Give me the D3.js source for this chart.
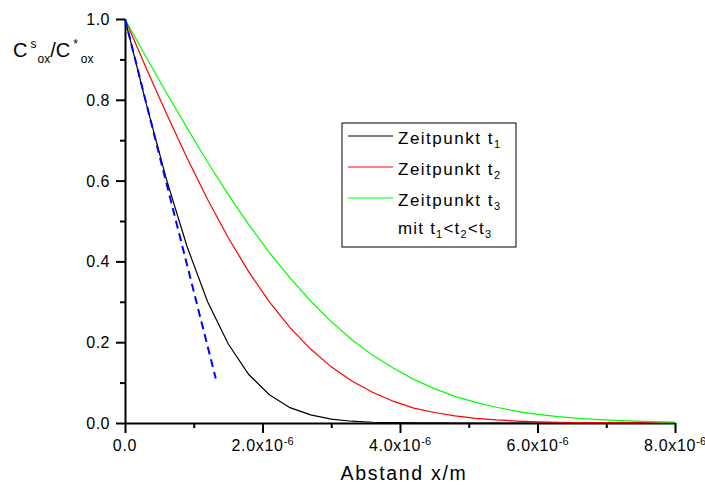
<!DOCTYPE html>
<html>
<head>
<meta charset="utf-8">
<script src="https://cdn.jsdelivr.net/npm/d3@7"></script>
<style>
  html, body { margin: 0; padding: 0; background: #fff; }
  svg { display: block; font-family: "Liberation Sans", Arial, sans-serif; }
</style>
</head>
<body>
<svg id="chart" width="705" height="486"></svg>
<script>
// Distance samples (in micrometres, i.e. units of 1e-6 m)
const distance = [0, 0.3, 0.6, 0.9, 1.2, 1.5, 1.8, 2.1, 2.4, 2.7, 3.0, 3.3, 3.6, 3.9,
                  4.2, 4.5, 4.8, 5.1, 5.4, 5.7, 6.0, 6.3, 6.6, 6.9, 7.2, 7.5, 7.8, 8.1];

// Normalised surface concentration profiles at three times t1 < t2 < t3
const profileT1 = [1, 0.796, 0.605, 0.438, 0.301, 0.196, 0.120, 0.070, 0.038, 0.020, 0.0096, 0.0044,
                   0.0019, 0.0007, 0.0003, 0.0001, 0, 0, 0, 0, 0, 0, 0, 0, 0, 0, 0, 0];
const profileT2 = [1, 0.882, 0.767, 0.657, 0.554, 0.459, 0.374, 0.300, 0.236, 0.183, 0.139, 0.104,
                   0.076, 0.054, 0.037, 0.026, 0.0175, 0.0116, 0.0076, 0.0048, 0.0030, 0.0018,
                   0.0011, 0.0007, 0.0004, 0.0002, 0.0001, 0.0001];
const profileT3 = [1, 0.908, 0.818, 0.731, 0.646, 0.566, 0.491, 0.422, 0.359, 0.302, 0.251, 0.206,
                   0.168, 0.136, 0.108, 0.085, 0.066, 0.051, 0.039, 0.029, 0.0215, 0.0158,
                   0.0114, 0.0082, 0.0058, 0.0041, 0.0028, 0.0019];

// Initial tangent of the t1 profile
const tangentX = [0, 1.32];
const tangentY = [1.0, 0.11];

// Axis ticks
const xMajorTicks = [0, 2, 4, 6, 8];
const xMinorTicks = [1, 3, 5, 7];
const xTickMantissa = ["0.0", "2.0", "4.0", "6.0", "8.0"];
const xTickExponent = "-6";
const yMajorTicks = [0, 0.2, 0.4, 0.6, 0.8, 1.0];
const yMinorTicks = [0.1, 0.3, 0.5, 0.7, 0.9];
const yTickLabels = ["0.0", "0.2", "0.4", "0.6", "0.8", "1.0"];

const legendLabels = ["Zeitpunkt t", "Zeitpunkt t", "Zeitpunkt t"];
const legendIndices = ["1", "2", "3"];
const seriesColors = ["#000000", "#ff0000", "#00ff00"];

const svg = d3.select("#chart");

const x = d3.scaleLinear().domain([0, 8]).range([125, 675]);
const y = d3.scaleLinear().domain([0, 1]).range([423, 19]);

// ---- axes ----
const xAxisG = svg.append("g").attr("transform", "translate(0,423)");
xAxisG.call(d3.axisBottom(x).tickValues(xMajorTicks).tickSize(10).tickSizeOuter(0).tickFormat(""));
xAxisG.append("g").call(d3.axisBottom(x).tickValues(xMinorTicks).tickSize(5).tickSizeOuter(0).tickFormat(""))
  .select(".domain").remove();
xAxisG.selectAll("path, line").attr("stroke", "#000").attr("stroke-width", 2);

const yAxisG = svg.append("g").attr("transform", "translate(125,0)");
yAxisG.call(d3.axisLeft(y).tickValues(yMajorTicks).tickSize(9).tickSizeOuter(0).tickFormat(""));
yAxisG.append("g").call(d3.axisLeft(y).tickValues(yMinorTicks).tickSize(5).tickSizeOuter(0).tickFormat(""))
  .select(".domain").remove();
yAxisG.selectAll("path, line").attr("stroke", "#000").attr("stroke-width", 2);

// y tick labels
svg.append("g").selectAll("text").data(yMajorTicks).join("text")
  .attr("x", 110)
  .attr("y", d => y(d) + 6)
  .attr("text-anchor", "end")
  .attr("font-size", 16)
  .attr("letter-spacing", 0.5)
  .attr("fill", "#000")
  .text((d, i) => yTickLabels[i]);

// x tick labels with power-of-ten exponent
const xLab = svg.append("g").selectAll("text").data(xMajorTicks).join("text")
  .attr("x", d => x(d))
  .attr("y", 451)
  .attr("text-anchor", "middle")
  .attr("font-size", 16)
  .attr("letter-spacing", 0.7)
  .attr("fill", "#000");
xLab.each(function(d, i) {
  const t = d3.select(this);
  if (d === 0) {
    t.text(xTickMantissa[i]);
  } else {
    t.append("tspan").text(xTickMantissa[i] + "x10");
    t.append("tspan").attr("dy", -6).attr("font-size", 11).attr("letter-spacing", 0).text(xTickExponent);
  }
});

// axis titles
svg.append("text")
  .attr("x", 404)
  .attr("y", 480)
  .attr("text-anchor", "middle")
  .attr("font-size", 19.5)
  .attr("letter-spacing", 1.7)
  .attr("fill", "#000")
  .text("Abstand x/m");

const yTitle = svg.append("text")
  .attr("x", 13)
  .attr("y", 57)
  .attr("font-size", 20)
  .attr("fill", "#000");
yTitle.append("tspan").text("C");
yTitle.append("tspan").attr("dx", 3).attr("dy", -9).attr("font-size", 12).text("s");
yTitle.append("tspan").attr("dx", 1).attr("dy", 15).attr("font-size", 12).text("ox");
yTitle.append("tspan").attr("dy", -6).text("/C");
yTitle.append("tspan").attr("dx", 3).attr("dy", -9).attr("font-size", 12).text("*");
yTitle.append("tspan").attr("dx", 3).attr("dy", 15).attr("font-size", 12).text("ox");

// ---- curves ----
svg.append("clipPath").attr("id", "plotClip")
  .append("rect").attr("x", 124).attr("y", 0).attr("width", 551).attr("height", 430);

const line = d3.line().x(d => x(d[0])).y(d => y(d[1]));
const profiles = [profileT1, profileT2, profileT3];

const curves = svg.append("g").attr("clip-path", "url(#plotClip)");
profiles.forEach((p, i) => {
  curves.append("path")
    .datum(distance.map((d, j) => [d, p[j]]))
    .attr("fill", "none")
    .attr("stroke", seriesColors[i])
    .attr("stroke-width", 1.2)
    .attr("d", line);
});

curves.append("path")
  .datum(tangentX.map((d, j) => [d, tangentY[j]]))
  .attr("fill", "none")
  .attr("stroke", "#0000ff")
  .attr("stroke-width", 2)
  .attr("stroke-dasharray", "8,5")
  .attr("d", line);

// ---- legend ----
const legend = svg.append("g");
legend.append("rect")
  .attr("x", 342).attr("y", 123).attr("width", 174).attr("height", 124)
  .attr("fill", "#fff").attr("stroke", "#000").attr("stroke-width", 1);

const rowY = [136, 167, 198];
legendLabels.forEach((lab, i) => {
  legend.append("line")
    .attr("x1", 348).attr("x2", 393)
    .attr("y1", rowY[i]).attr("y2", rowY[i])
    .attr("stroke", seriesColors[i]).attr("stroke-width", 1);
  const t = legend.append("text")
    .attr("x", 398).attr("y", rowY[i] + 8)
    .attr("font-size", 17).attr("letter-spacing", 1.5).attr("fill", "#000");
  t.append("tspan").text(lab);
  t.append("tspan").attr("dy", 4).attr("font-size", 11).text(legendIndices[i]);
});

const note = legend.append("text")
  .attr("x", 398).attr("y", 234)
  .attr("font-size", 17).attr("letter-spacing", 1.2).attr("fill", "#000");
note.append("tspan").text("mit t");
note.append("tspan").attr("dy", 4).attr("font-size", 11).text("1");
note.append("tspan").attr("dy", -4).text("<t");
note.append("tspan").attr("dy", 4).attr("font-size", 11).text("2");
note.append("tspan").attr("dy", -4).text("<t");
note.append("tspan").attr("dy", 4).attr("font-size", 11).text("3");
</script>
</body>
</html>
